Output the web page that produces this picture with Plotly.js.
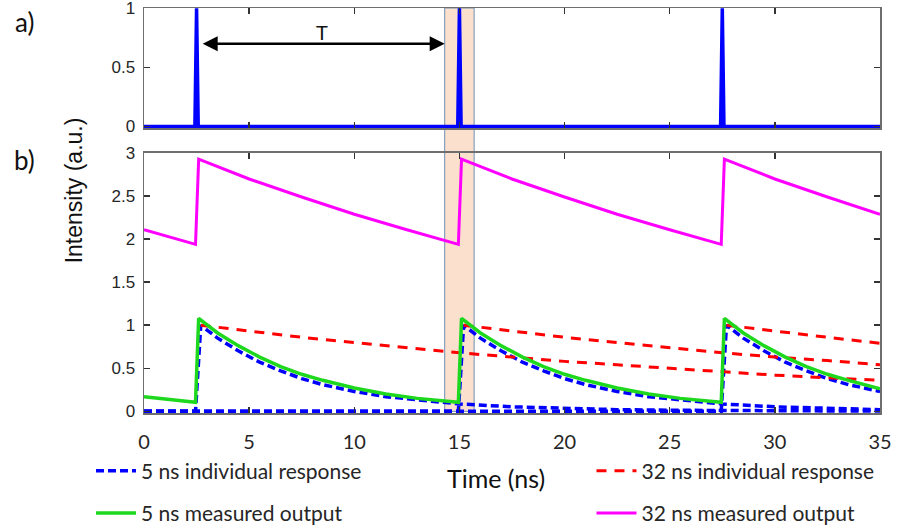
<!DOCTYPE html>
<html>
<head>
<meta charset="utf-8">
<script src="https://cdn.plot.ly/plotly-3.0.1.min.js"></script>
<style>html,body{margin:0;padding:0;background:#fff;}#chart{width:907px;height:531px;}</style>
</head>
<body>
<div id="chart"></div>
<script>
// ---- data (a) input pulse train ----
const pulseT = [0, 2.42, 2.5, 2.58, 14.92, 15.0, 15.08, 27.42, 27.5, 27.58, 35];
const pulseI = [0, 0, 1, 0, 0, 1, 0, 0, 1, 0, 0];

// ---- data (b) ----
// 5 ns individual responses (blue dashed)
const tB1 = [0, 2.45, 2.7, 3.5, 4.5, 5.5, 6.5, 7.5, 8.5, 10, 11.5, 13, 15, 17.5, 20, 22.5, 25, 27.5, 30, 35];
const b1  = [0, 0, 1.0, 0.85, 0.70, 0.57, 0.47, 0.38, 0.31, 0.23, 0.17, 0.13, 0.085, 0.052, 0.031, 0.019, 0.012, 0.007, 0.004, 0.002];
const tB2 = [0, 14.95, 15.2, 16, 17, 18, 19, 20, 21, 22.5, 24, 25.5, 27.5, 30, 32.5, 35];
const b2  = [0, 0, 1.0, 0.85, 0.70, 0.57, 0.47, 0.38, 0.31, 0.23, 0.17, 0.13, 0.085, 0.052, 0.031, 0.019];
const tB3 = [0, 27.45, 27.7, 28.5, 29.5, 30.5, 31.5, 32.5, 33.5, 35];
const b3  = [0, 0, 1.0, 0.85, 0.70, 0.57, 0.47, 0.38, 0.31, 0.23];

// 32 ns individual responses (red dashed)
const tR1 = [2.7, 5, 7.5, 10, 12.5, 15, 17.5, 20, 22.5, 25, 27.5, 30, 32.5, 35];
const r1  = [1.0, 0.93, 0.86, 0.80, 0.74, 0.68, 0.63, 0.58, 0.54, 0.50, 0.46, 0.42, 0.39, 0.36];
const tR2 = [15.2, 17.5, 20, 22.5, 25, 27.5, 30, 32.5, 35];
const r2  = [1.0, 0.93, 0.86, 0.80, 0.74, 0.68, 0.63, 0.59, 0.54];
const tR3 = [27.7, 30, 32.5, 35];
const r3  = [1.0, 0.93, 0.86, 0.79];

// 5 ns measured output (green)
const tG = [0, 1, 2.45, 2.6, 3.5, 4.5, 5.5, 6.5, 7.5, 8.5, 10, 11.5, 13, 14.95, 15.1, 16, 17, 18, 19, 20, 21, 22.5, 24, 25.5, 27.45, 27.6, 28.5, 29.5, 30.5, 31.5, 32.5, 33.5, 35];
const g  = [0.17, 0.14, 0.105, 1.08, 0.91, 0.76, 0.63, 0.52, 0.43, 0.36, 0.27, 0.20, 0.15, 0.105, 1.08, 0.91, 0.76, 0.63, 0.52, 0.43, 0.36, 0.27, 0.20, 0.15, 0.105, 1.08, 0.91, 0.76, 0.63, 0.52, 0.43, 0.36, 0.26];

// 32 ns measured output (magenta)
const tM = [0, 2.45, 2.6, 5, 7.5, 10, 12.5, 14.95, 15.1, 17.5, 20, 22.5, 25, 27.45, 27.6, 30, 32.5, 35];
const m  = [2.11, 1.94, 2.93, 2.70, 2.49, 2.29, 2.11, 1.94, 2.93, 2.70, 2.49, 2.29, 2.11, 1.94, 2.93, 2.70, 2.49, 2.29];

// ticks and labels
const xTicks = [0, 5, 10, 15, 20, 25, 30, 35];
const yTicksB = [0, 0.5, 1, 1.5, 2, 2.5, 3];
const yTicksA = [0, 0.5, 1];
const legendNames = ['5 ns individual response', '32 ns individual response', '5 ns measured output', '32 ns measured output'];

const BLUE = '#0000ff', RED = '#ff0000', GREEN = '#1ed81e', MAG = '#ff00ff';
const blueLine = {color: BLUE, width: 3.5, dash: '8px,4px'};
const redLine = {color: RED, width: 3, dash: '10px,8px'};

const traces = [
  {x: pulseT, y: pulseI, xaxis: 'x2', yaxis: 'y2', mode: 'lines', line: {color: BLUE, width: 3.5}, showlegend: false, hoverinfo: 'skip'},
  {x: tB1, y: b1, mode: 'lines', line: blueLine, name: legendNames[0], legendgroup: 'b', legend: 'legend', showlegend: true},
  {x: tB2, y: b2, mode: 'lines', line: blueLine, name: legendNames[0], legendgroup: 'b', showlegend: false},
  {x: tB3, y: b3, mode: 'lines', line: blueLine, name: legendNames[0], legendgroup: 'b', showlegend: false},
  {x: tR1, y: r1, mode: 'lines', line: redLine, name: legendNames[1], legendgroup: 'r', legend: 'legend2', showlegend: true},
  {x: tR2, y: r2, mode: 'lines', line: redLine, name: legendNames[1], legendgroup: 'r', showlegend: false},
  {x: tR3, y: r3, mode: 'lines', line: redLine, name: legendNames[1], legendgroup: 'r', showlegend: false},
  {x: tG, y: g, mode: 'lines', line: {color: GREEN, width: 3.5}, name: legendNames[2], legend: 'legend3'},
  {x: tM, y: m, mode: 'lines', line: {color: MAG, width: 3}, name: legendNames[3], legend: 'legend4'}
];

const axisCommon = {
  showline: true, linecolor: '#6e6e6e', linewidth: 1.5, mirror: 'ticks',
  ticks: 'inside', ticklen: 6, tickwidth: 1.5, tickcolor: '#333',
  showgrid: false, zeroline: false, fixedrange: true, automargin: false,
  ticklabeloverflow: 'allow'
};
const yFont = {family: 'Liberation Sans, Arial, sans-serif', size: 17, color: '#262626'};
const xFont = {family: 'Lato, sans-serif', size: 20, color: '#262626'};
const legFont = {family: 'Lato, sans-serif', size: 21, color: '#262626'};

function leg(x, y) {
  return {x: x, y: y, xanchor: 'left', yanchor: 'top', bgcolor: 'rgba(0,0,0,0)', borderwidth: 0,
          font: legFont, itemwidth: 40, tracegroupgap: 0};
}

const layout = {
  width: 907, height: 531,
  margin: {l: 144, r: 27, t: 8, b: 118, autoexpand: false},
  paper_bgcolor: '#ffffff', plot_bgcolor: 'rgba(0,0,0,0)',
  showlegend: true,
  xaxis: Object.assign({}, axisCommon, {domain: [0, 1], anchor: 'y', range: [0, 35], tickvals: xTicks, ticktext: xTicks.map(String), tickfont: xFont, ticklabelstandoff: 10}),
  yaxis: Object.assign({}, axisCommon, {domain: [0, 0.642], anchor: 'x', range: [-0.02, 3.002], tickvals: yTicksB, ticktext: yTicksB.map(String), tickfont: yFont, ticklabelstandoff: 4}),
  xaxis2: Object.assign({}, axisCommon, {domain: [0, 1], anchor: 'y2', range: [0, 35], tickvals: xTicks, showticklabels: false}),
  yaxis2: Object.assign({}, axisCommon, {domain: [0.703, 1], anchor: 'x2', range: [-0.015, 1.003], tickvals: yTicksA, ticktext: yTicksA.map(String), tickfont: yFont, ticklabelstandoff: 4}),
  legend: leg(-0.072, -0.093),
  legend2: leg(0.608, -0.093),
  legend3: leg(-0.072, -0.197),
  legend4: leg(0.608, -0.197),
  shapes: [
    {type: 'rect', xref: 'x', yref: 'paper', x0: 14.3, x1: 15.7, y0: 0.004, y1: 1, layer: 'below',
     fillcolor: '#fbe0cd', line: {color: '#6f8fb3', width: 1}}
  ],
  annotations: [
    {xref: 'x2', yref: 'y2', x: 14.3, y: 0.7, ax: 2.72, ay: 0.7, axref: 'x2', ayref: 'y2', text: '',
     showarrow: true, arrowhead: 2, startarrowhead: 2, arrowside: 'end+start', arrowsize: 1.2, startarrowsize: 1.2, arrowwidth: 2.5, arrowcolor: '#000'},
    {xref: 'x2', yref: 'y2', x: 8.47, y: 0.8, text: 'T', showarrow: false, font: {family: 'Lato, sans-serif', size: 20, color: '#111'}},
    {xref: 'paper', yref: 'paper', x: -0.1617, y: 0.965, text: 'a)', showarrow: false, xanchor: 'center', yanchor: 'middle', font: {family: 'Lato, sans-serif', size: 26, color: '#111'}},
    {xref: 'paper', yref: 'paper', x: -0.1617, y: 0.625, text: 'b)', showarrow: false, xanchor: 'center', yanchor: 'middle', font: {family: 'Lato, sans-serif', size: 26, color: '#111'}},
    {xref: 'paper', yref: 'paper', x: -0.095, y: 0.55, text: 'Intensity (a.u.)', textangle: -90, showarrow: false, xanchor: 'center', yanchor: 'middle', font: {family: 'Liberation Sans, Arial, sans-serif', size: 23, color: '#111'}},
    {xref: 'paper', yref: 'paper', x: 0.478, y: -0.16, text: 'Time (ns)', showarrow: false, xanchor: 'center', yanchor: 'middle', font: {family: 'Lato, sans-serif', size: 25, color: '#111'}}
  ]
};

Plotly.newPlot('chart', traces, layout, {staticPlot: true, displayModeBar: false});
</script>
</body>
</html>
